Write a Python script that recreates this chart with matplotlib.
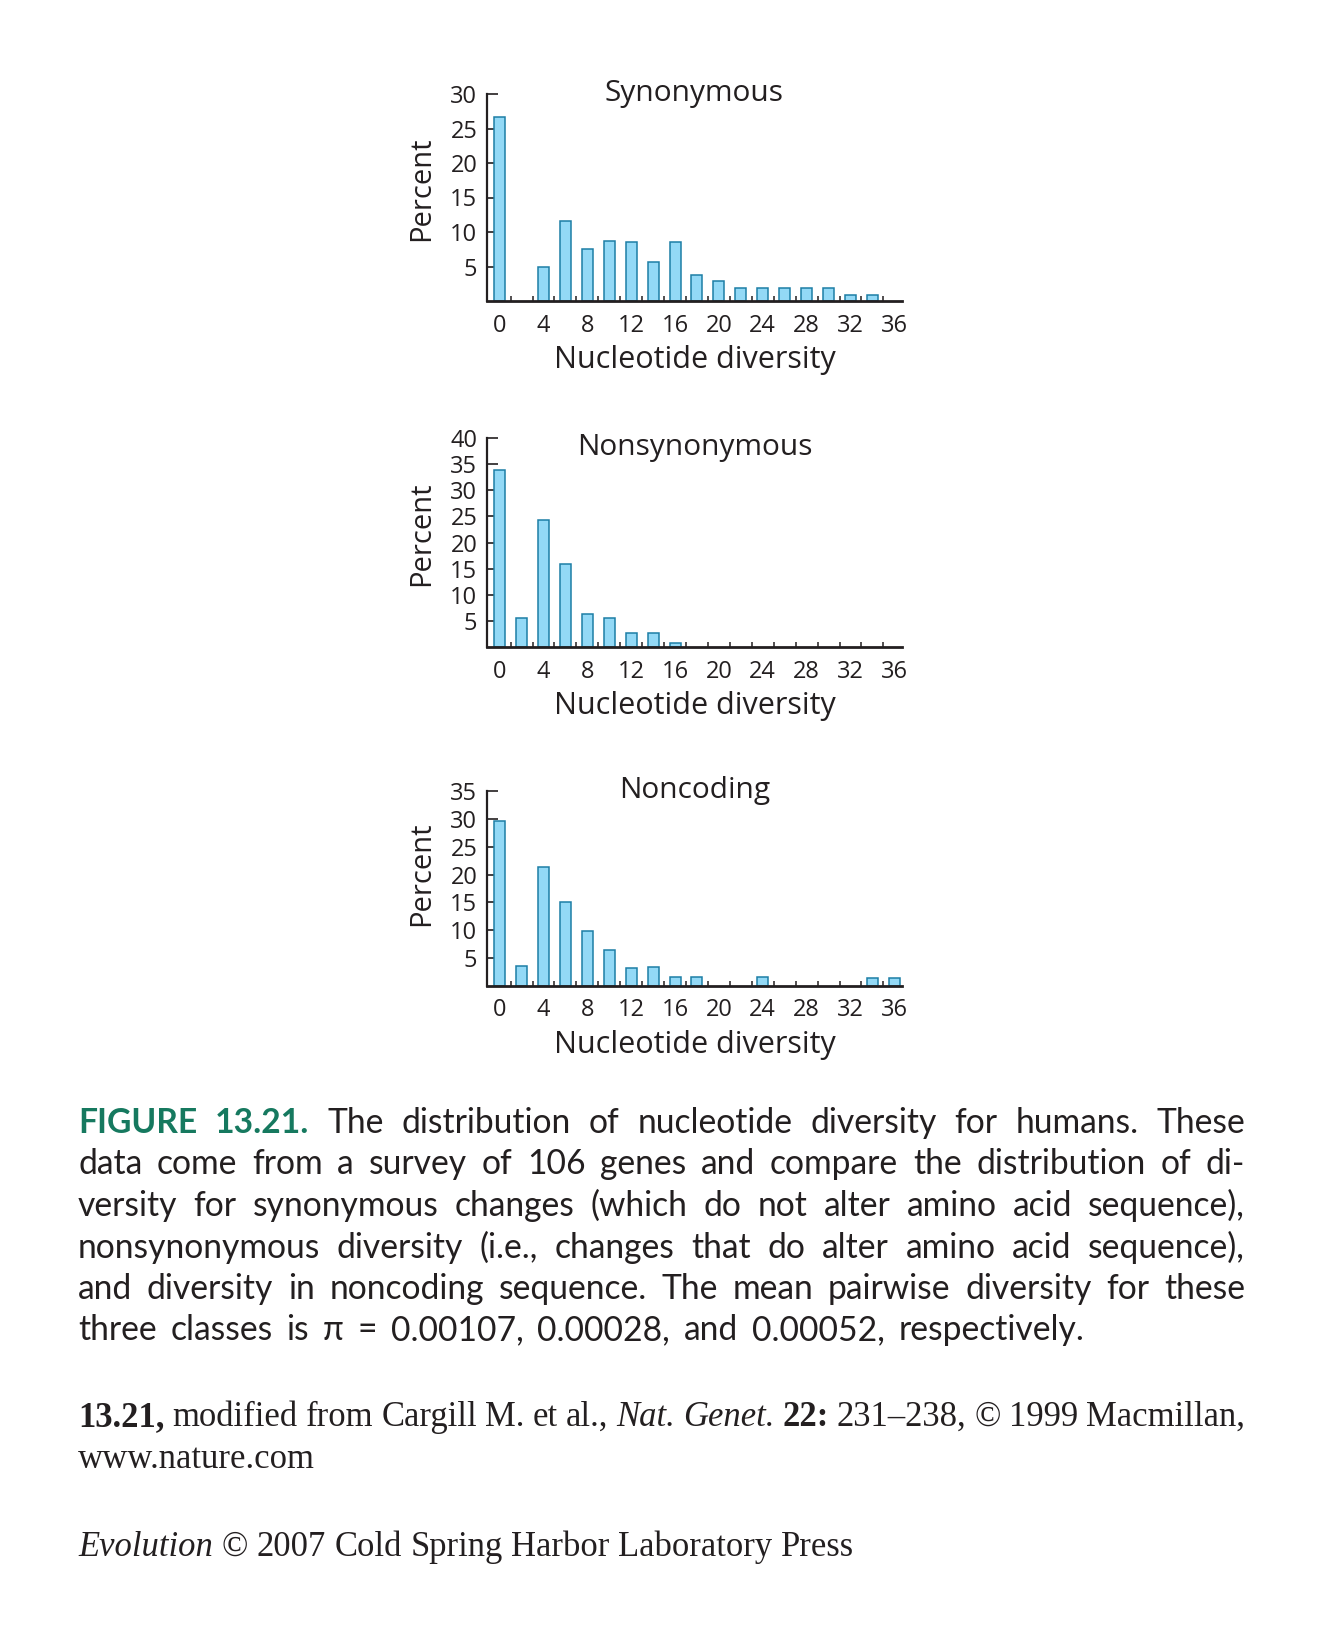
import matplotlib
matplotlib.use("Agg")
import matplotlib.pyplot as plt

plt.rcParams["font.family"] = ["Open Sans", "DejaVu Sans"]
INK = "#231f20"
plt.rcParams["text.color"] = INK
plt.rcParams["xtick.color"] = INK
plt.rcParams["ytick.color"] = INK
plt.rcParams["axes.edgecolor"] = INK

# bins of nucleotide diversity (bar centres) and percent of genes per bin
bins = [0, 2, 4, 6, 8, 10, 12, 14, 16, 18, 20, 22, 24, 26, 28, 30, 32, 34, 36]
synonymous = [26.7, 0, 5.0, 11.6, 7.6, 8.7, 8.6, 5.7, 8.5, 3.8,
              2.9, 1.9, 1.9, 1.9, 1.9, 1.9, 0.8, 0.8, 0]
nonsynonymous = [33.8, 5.6, 24.3, 15.9, 6.3, 5.6, 2.6, 2.6, 0.8, 0,
                 0, 0, 0, 0, 0, 0, 0, 0, 0]
noncoding = [29.7, 3.6, 21.4, 15.0, 9.8, 6.5, 3.2, 3.4, 1.7, 1.6,
             0, 0, 1.6, 0, 0, 0, 0, 1.4, 1.4]

titles = ["Synonymous", "Nonsynonymous", "Noncoding"]
y_tops = [30, 40, 35]
x_ticks = list(range(0, 37, 4))

caption_lines = [
    "The distribution of nucleotide diversity for humans. These",
    "data come from a survey of 106 genes and compare the distribution of di-",
    "versity for synonymous changes (which do not alter amino acid sequence),",
    "nonsynonymous diversity (i.e., changes that do alter amino acid sequence),",
    "and diversity in noncoding sequence. The mean pairwise diversity for these",
    "three classes is \u03c0 = 0.00107, 0.00028, and 0.00052, respectively.",
]

W, H = 1320, 1641
fig = plt.figure(figsize=(W / 100, H / 100), dpi=100)
renderer = fig.canvas.get_renderer()

BAR_FILL = "#93d9f6"
BAR_EDGE = "#1d7ea6"
GREEN = "#16795f"

# panel boxes in pixels: left, right, top, bottom
boxes = [(487, 902, 94, 301), (487, 902, 438, 647), (487, 902, 791, 986)]
title_drop = [7, 17, 7]
ylab_rise = [9, 9, 15]

for box, vals, top, title, tdrop, yrise in zip(boxes, [synonymous, nonsynonymous, noncoding],
                                              y_tops, titles, title_drop, ylab_rise):
    l, r, t, b = box
    ax = fig.add_axes([l / W, 1 - b / H, (r - l) / W, (b - t) / H])
    xs = [x for x, v in zip(bins, vals) if v > 0]
    hs = [v for v in vals if v > 0]
    ax.bar(xs, hs, width=1.0, color=BAR_FILL, edgecolor=BAR_EDGE, linewidth=1.1, zorder=2)
    ax.set_xlim(-1.15, 36.7)
    ax.set_ylim(0, top)
    for s in ["top", "right"]:
        ax.spines[s].set_visible(False)
    ax.spines["left"].set_linewidth(1.6)
    ax.spines["bottom"].set_linewidth(2.0)
    ax.set_xticks(x_ticks)
    ax.set_xticks(range(1, 36, 2), minor=True)
    ax.tick_params(axis="x", which="major", length=0, pad=9, labelsize=17)
    ax.tick_params(axis="x", which="minor", direction="in", length=3.8, width=1.1)
    ax.set_yticks(range(5, top + 1, 5))
    ax.tick_params(axis="y", direction="in", length=8, width=1.2, pad=7, labelsize=17)
    ax.annotate(title, xy=(0.5, 1), xycoords="axes fraction", xytext=(0, -tdrop * 0.72),
                textcoords="offset points", ha="center", va="baseline", fontsize=21.5)
    ax.annotate("Nucleotide diversity", xy=(0.5, 0), xycoords="axes fraction",
                xytext=(0, -67 * 0.72), textcoords="offset points",
                ha="center", va="baseline", fontsize=22)
    ax.annotate("Percent", xy=(0, 0.5), xycoords="axes fraction",
                xytext=((422 - l) * 0.72, yrise * 0.72), textcoords="offset points",
                ha="center", va="center", rotation=90, fontsize=21)


def measure(s, size, **kw):
    t = fig.text(0, 0, s, fontsize=size, **kw)
    w = t.get_window_extent(renderer).width
    t.remove()
    return w


def draw_words(words, x0, y, size, width=None, space_scale=1.0, **base):
    # words: list of (text, style dict); justified if width is given
    widths = [measure(w, size, **{**base, **kw}) for w, kw in words]
    space = (measure("a a", size, **base) - measure("aa", size, **base)) * space_scale
    if width is not None and len(words) > 1:
        space = (width - sum(widths)) / (len(words) - 1)
    x = x0
    for (w, kw), wd in zip(words, widths):
        fig.text(x / W, 1 - y / H, w, fontsize=size, va="baseline", ha="left", **{**base, **kw})
        x += wd + space


# caption, sans, justified
left, right = 78, 1245
sans = dict(family=["Lato", "DejaVu Sans"], color=INK)
last = caption_lines[-1].split(" ")
gap_scale = 1.6
nat = sum(measure(w, 20, **sans) for w in last) + \
      (len(last) - 1) * gap_scale * (measure("a a", 20, **sans) - measure("aa", 20, **sans))
cap_size = 20 * 1009 / nat
green = dict(color=GREEN, weight="bold")
for i, line in enumerate(caption_lines):
    words = [(w, {}) for w in line.split(" ")]
    if i == 0:
        words = [("FIGURE", green), ("13.21.", green)] + words
    y = 1133 + i * 41.5
    is_last = i == len(caption_lines) - 1
    draw_words(words, left, y, cap_size, None if is_last else right - left,
               space_scale=gap_scale, **sans)

# credit lines, serif
serif = dict(family=["Liberation Serif", "DejaVu Serif"], color=INK)
cred_size = 20 * 777 / measure("Evolution \u00a9 2007 Cold Spring Harbor Laboratory Press", 20, **serif)
bold = dict(weight="bold")
ital = dict(style="italic")
credit1 = [("13.21,", bold), ("modified", {}), ("from", {}), ("Cargill", {}), ("M.", {}),
           ("et", {}), ("al.,", {}), ("Nat.", ital), ("Genet.", ital), ("22:", bold),
           ("231\u2013238,", {}), ("\u00a9", {}), ("1999", {}), ("Macmillan,", {})]
draw_words(credit1, left, 1426, cred_size, right - left, **serif)
draw_words([("www.nature.com", {})], left, 1468, cred_size, **serif)
draw_words([("Evolution", ital)] + [(w, {}) for w in "\u00a9 2007 Cold Spring Harbor Laboratory Press".split(" ")],
           left, 1556, cred_size, **serif)

fig.savefig("out.png", dpi=100)
